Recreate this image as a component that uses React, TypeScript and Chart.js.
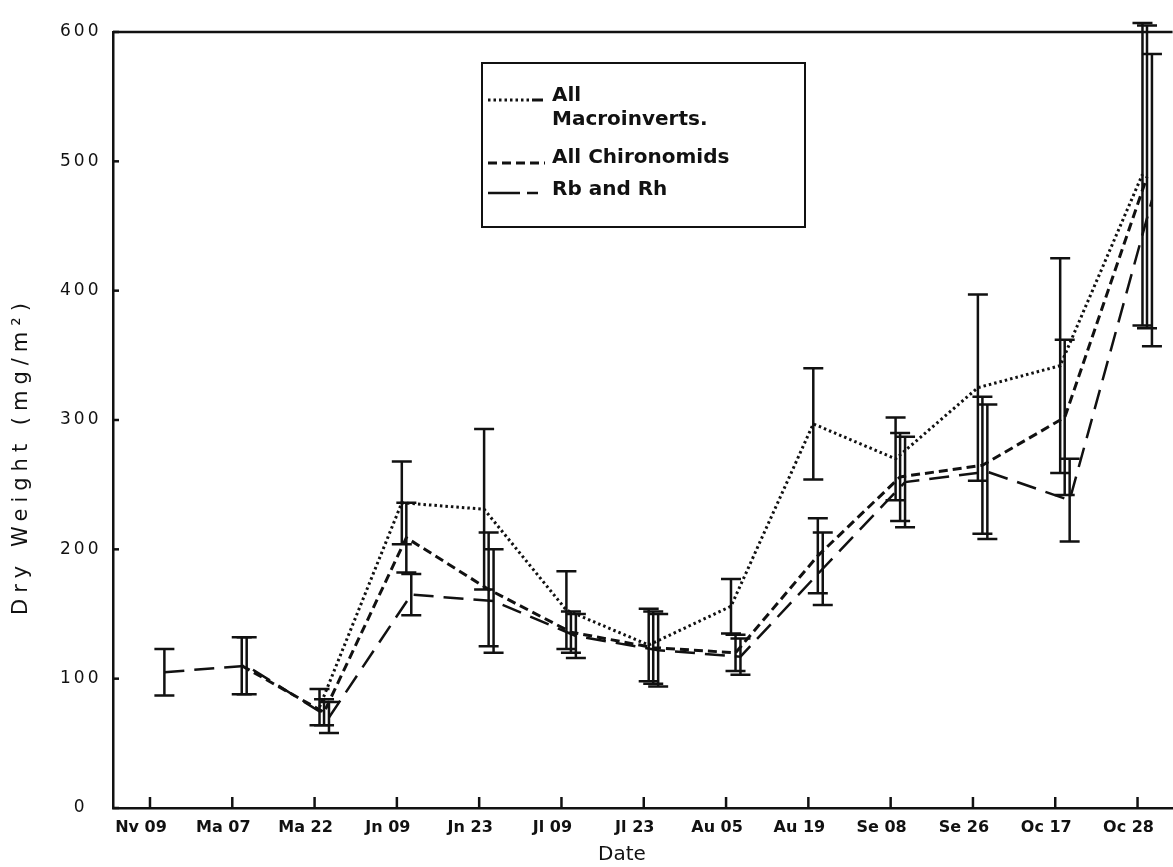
import React, { useEffect, useRef } from "react";
import { Chart, registerables } from "chart.js";

Chart.register(...registerables);

// ---------- data ----------
const dates = ["Nv 09", "Ma 07", "Ma 22", "Jn 09", "Jn 23", "Jl 09", "Jl 23", "Au 05", "Au 19", "Se 08", "Se 26", "Oc 17", "Oc 28"];
const yTicks = [0, 100, 200, 300, 400, 500, 600];

const macroLegend = ["All", "Macroinverts."];
const chiroLegend = ["All Chironomids"];
const rbLegend = ["Rb and Rh"];

const macroMean = [null, null, 78, 236, 231, 153, 126, 156, 297, 270, 325, 342, 490];
const macroErr = [null, null, 14, 32, 62, 30, 28, 21, 43, 32, 72, 83, 117];

const chiroMean = [null, 110, 74, 209, 169, 136, 124, 120, 195, 256, 265, 302, 488];
const chiroErr = [null, 22, 10, 27, 44, 16, 28, 14, 29, 34, 53, 60, 117];

const rbMean = [105, 110, 70, 165, 160, 133, 122, 117, 185, 252, 260, 238, 470];
const rbErr = [18, 22, 12, 16, 40, 17, 28, 14, 28, 35, 52, 32, 113];

// ---------- styles ----------
const INK = "#111";
const FONT = "'DejaVu Sans', Verdana, sans-serif";
const X_MIN = -0.4494;
const X_MAX = 12.4256;

type Series = {
  legend: string[];
  mean: (number | null)[];
  err: (number | null)[];
  off: number;
  dash: number[];
  width: number;
};

const series: Series[] = [
  { legend: macroLegend, mean: macroMean, err: macroErr, off: 0.06, dash: [2.5, 3], width: 3 },
  { legend: chiroLegend, mean: chiroMean, err: chiroErr, off: 0.115, dash: [9, 5], width: 3 },
  { legend: rbLegend, mean: rbMean, err: rbErr, off: 0.175, dash: [20, 10], width: 2.5 },
];

const decorPlugin = {
  id: "decor",
  beforeDraw(chart: any) {
    const ys = chart.scales.y;
    if (ys && !ys.__ls) {
      const orig = ys.drawLabels;
      ys.drawLabels = function (ca: any) {
        const c: any = this.ctx;
        const prev = c.letterSpacing;
        c.letterSpacing = "3px";
        orig.call(this, ca);
        c.letterSpacing = prev || "0px";
      };
      ys.__ls = true;
    }
  },
  afterDatasetsDraw(chart: any) {
    const ctx = chart.ctx as CanvasRenderingContext2D;
    const xs = chart.scales.x;
    const ys = chart.scales.y;
    ctx.save();
    ctx.strokeStyle = INK;
    ctx.lineWidth = 2.5;
    ctx.setLineDash([]);
    series.forEach((s) => {
      s.mean.forEach((m, i) => {
        const e = s.err[i];
        if (m == null || e == null) return;
        const x = xs.getPixelForValue(i + s.off);
        const yt = ys.getPixelForValue(m + e);
        const yb = ys.getPixelForValue(m - e);
        ctx.beginPath();
        ctx.moveTo(x, yt);
        ctx.lineTo(x, yb);
        ctx.moveTo(x - 10, yt);
        ctx.lineTo(x + 10, yt);
        ctx.moveTo(x - 10, yb);
        ctx.lineTo(x + 10, yb);
        ctx.stroke();
      });
    });
    ctx.restore();
  },
  afterDraw(chart: any) {
    const ctx = chart.ctx as CanvasRenderingContext2D;
    const { left, right, top, bottom } = chart.chartArea;
    const xs = chart.scales.x;
    const ys = chart.scales.y;
    ctx.save();
    ctx.strokeStyle = INK;
    ctx.fillStyle = INK;
    ctx.setLineDash([]);
    // top frame line
    ctx.lineWidth = 2.5;
    ctx.beginPath();
    ctx.moveTo(left, top);
    ctx.lineTo(right, top);
    ctx.stroke();
    // x tick marks (inward)
    xs.ticks.forEach((t: any) => {
      const px = xs.getPixelForValue(t.value);
      ctx.beginPath();
      ctx.moveTo(px, bottom);
      ctx.lineTo(px, bottom - 11);
      ctx.stroke();
    });
    // y tick marks (inward)
    ys.ticks.forEach((t: any) => {
      const py = ys.getPixelForValue(t.value);
      ctx.beginPath();
      ctx.moveTo(left, py);
      ctx.lineTo(left + 6, py);
      ctx.stroke();
    });

    // axis titles
    (ctx as any).letterSpacing = "0px";
    ctx.font = `20px ${FONT}`;
    ctx.textAlign = "center";
    ctx.textBaseline = "middle";
    ctx.fillText("Date", 622, 855);

    ctx.save();
    (ctx as any).letterSpacing = "6px";
    ctx.translate(22, 456);
    ctx.rotate(-Math.PI / 2);
    ctx.font = `21px ${FONT}`;
    ctx.fillText("Dry Weight (mg/m²)", 0, 0);
    ctx.restore();

    // legend box
    (ctx as any).letterSpacing = "0px";
    const lx = 482, ly = 63, lw = 323, lh = 164;
    ctx.lineWidth = 2;
    ctx.strokeRect(lx, ly, lw, lh);

    const sampleY = [100, 163, 193];
    const baselines = [[101, 125], [163], [195]];
    ctx.font = `bold 20px ${FONT}`;
    ctx.textAlign = "left";
    ctx.textBaseline = "alphabetic";
    series.forEach((s, k) => {
      const y = sampleY[k];
      ctx.lineWidth = s.width;
      ctx.setLineDash(s.dash);
      ctx.beginPath();
      if (k === 0) {
        ctx.moveTo(488, y);
        ctx.lineTo(530, y);
        ctx.stroke();
        ctx.setLineDash([]);
        ctx.beginPath();
        ctx.moveTo(532, y);
        ctx.lineTo(543, y);
      } else if (k === 1) {
        ctx.moveTo(488, y);
        ctx.lineTo(545, y);
      } else {
        ctx.setLineDash([]);
        ctx.moveTo(488, y);
        ctx.lineTo(520, y);
        ctx.moveTo(527, y);
        ctx.lineTo(538, y);
      }
      ctx.stroke();
      ctx.setLineDash([]);
      s.legend.forEach((line, j) => {
        ctx.fillText(line, 552, baselines[k][j]);
      });
    });
    ctx.restore();
  },
};

export default function App() {
  const ref = useRef<HTMLCanvasElement>(null);

  useEffect(() => {
    document.body.style.margin = "0";
    const canvas = ref.current!;
    const chart = new Chart(canvas, {
      type: "line",
      data: {
        datasets: series.map((s) => ({
          label: s.legend.join(" "),
          data: s.mean
            .map((m, i) => (m == null ? null : { x: i + s.off, y: m }))
            .filter((p) => p !== null) as any,
          borderColor: INK,
          backgroundColor: INK,
          borderWidth: s.width,
          borderDash: s.dash,
          pointRadius: 0,
          tension: 0,
          fill: false,
        })),
      },
      options: {
        animation: false,
        responsive: false,
        maintainAspectRatio: false,
        layout: { padding: { top: 32, left: 0, right: 0, bottom: 0 } },
        plugins: { legend: { display: false }, tooltip: { enabled: false } },
        scales: {
          x: {
            type: "linear",
            min: X_MIN,
            max: X_MAX,
            afterBuildTicks: (ax: any) => {
              ax.ticks = dates.map((_, i) => ({ value: i }));
            },
            afterFit: (ax: any) => {
              ax.height = 59;
            },
            grid: { display: false, drawTicks: false },
            border: { display: true, color: INK, width: 2.5 },
            ticks: {
              callback: (v: any) => dates[v] ?? "",
              autoSkip: false,
              maxRotation: 0,
              minRotation: 0,
              padding: 10,
              labelOffset: -9,
              color: INK,
              font: { family: FONT, size: 16, weight: "bold" },
            },
          },
          y: {
            type: "linear",
            min: 0,
            max: 600,
            afterBuildTicks: (ax: any) => {
              ax.ticks = yTicks.map((v) => ({ value: v }));
            },
            afterFit: (ax: any) => {
              ax.width = 113;
            },
            grid: { display: false, drawTicks: false },
            border: { display: true, color: INK, width: 2.5 },
            ticks: {
              callback: (v: any) => String(v),
              crossAlign: "center",
              padding: 16,
              color: INK,
              font: { family: FONT, size: 17 },
            },
          },
        },
      } as any,
      plugins: [decorPlugin as any],
    });
    return () => chart.destroy();
  }, []);

  return <canvas ref={ref} width={1173} height={867} style={{ display: "block" }} />;
}
